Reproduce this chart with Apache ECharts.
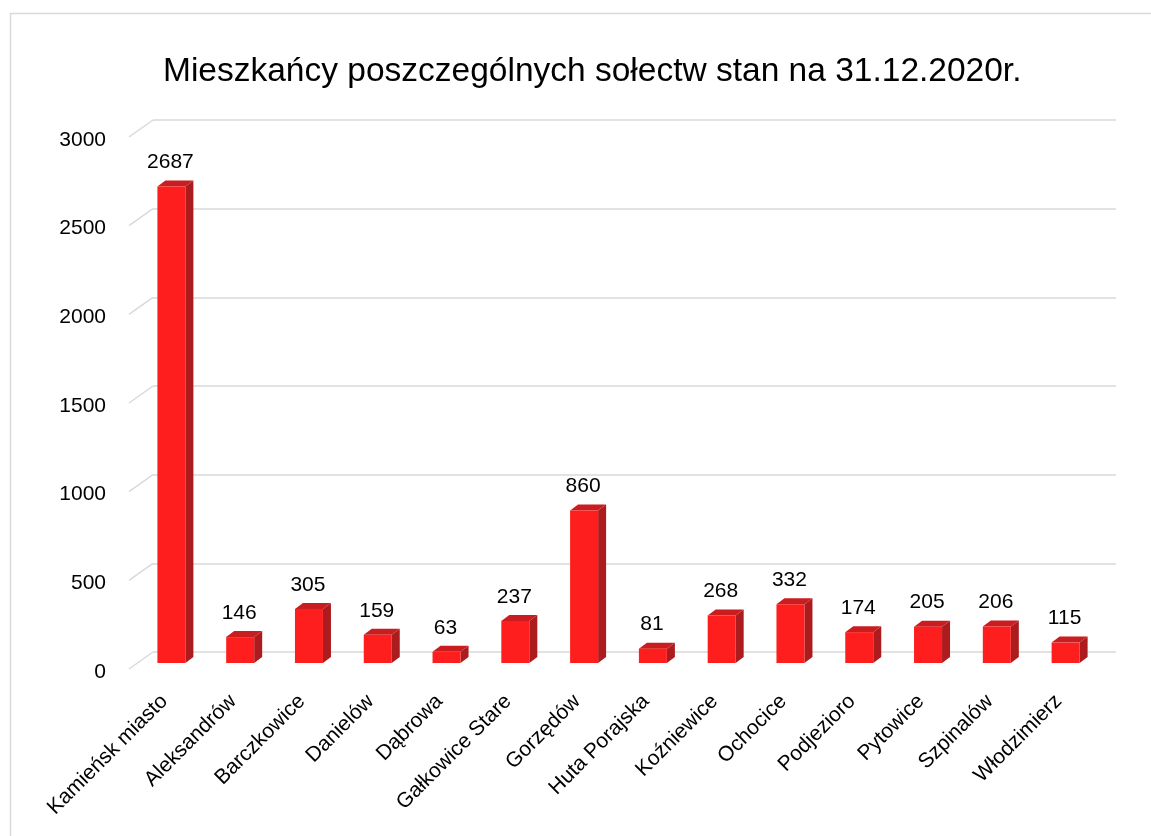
<!DOCTYPE html>
<html>
<head>
<meta charset="utf-8">
<script src="https://cdn.jsdelivr.net/npm/echarts@6/dist/echarts.min.js"></script>
<style>html,body{margin:0;padding:0;background:#fff}#c{width:1151px;height:836px}</style>
</head>
<body>
<div id="c"></div>
<script>
const titleText = 'Mieszkańcy poszczególnych sołectw stan na 31.12.2020r.';
const categories = ['Kamieńsk miasto','Aleksandrów','Barczkowice','Danielów','Dąbrowa','Gałkowice Stare','Gorzędów','Huta Porajska','Koźniewice','Ochocice','Podjezioro','Pytowice','Szpinalów','Włodzimierz'];
const values = [2687,146,305,159,63,237,860,81,268,332,174,205,206,115];
const yTicks = [0,500,1000,1500,2000,2500,3000];

const FONT = 'Liberation Sans';
const chart = echarts.init(document.getElementById('c'), null, {renderer:'canvas'});
const DX = 8, DY = -6, BW = 28;

chart.setOption({
  backgroundColor: '#fff',
  animation: false,
  title: {
    text: titleText, left: 158, top: 50,
    textStyle: {fontFamily: FONT, fontSize: 33.5, fontWeight: 'normal', color: '#000'}
  },
  graphic: [{
    type: 'rect', shape: {x: 10.5, y: 13.5, width: 1300, height: 1000},
    style: {fill: 'none', stroke: '#d9d9d9', lineWidth: 1.5}, silent: true, z: -10
  }],
  grid: [
    {left: 137, right: 51, top: 131, bottom: 173},
    {left: 153, right: 35, top: 120, bottom: 184},
    {left: 129, right: 35, top: 140, bottom: 164}
  ],
  xAxis: [
    {type: 'category', gridIndex: 0, data: categories,
     axisLine: {show: false}, axisTick: {show: false}, splitLine: {show: false},
     axisLabel: {rotate: 45, interval: 0, margin: 28, padding: [0, 10, 0, 0],
                 fontFamily: FONT, fontSize: 21, color: '#000'}},
    {type: 'value', gridIndex: 1, min: 0, max: 1, show: false},
    {type: 'value', gridIndex: 2, min: 0, max: 1, show: false}
  ],
  yAxis: [
    {type: 'value', gridIndex: 0, min: 0, max: 3000, interval: 500, show: false},
    {type: 'value', gridIndex: 1, min: 0, max: 3000, interval: 500,
     axisLine: {show: false}, axisTick: {show: false}, axisLabel: {show: false},
     splitLine: {show: true, lineStyle: {color: '#d9d9d9', width: 1.5}}},
    {type: 'value', gridIndex: 2, min: 0, max: 3000, interval: 500,
     axisLine: {show: false}, axisTick: {show: false}, splitLine: {show: false},
     axisLabel: {margin: 23, fontFamily: FONT, fontSize: 21, color: '#000',
                 formatter: v => String(v)}}
  ],
  series: [
    {
      type: 'custom', xAxisIndex: 1, yAxisIndex: 1, z: 1,
      data: yTicks.map(v => [0, v]),
      renderItem: function (params, api) {
        const p = api.coord([0, api.value(1)]);
        return {type: 'line', shape: {x1: p[0], y1: p[1], x2: p[0] - 24, y2: p[1] + 17},
          style: {stroke: '#d9d9d9', lineWidth: 1.5}};
      }
    },
    {
      type: 'custom', xAxisIndex: 0, yAxisIndex: 0, z: 5,
      data: values.map((v, i) => [i, v]),
      renderItem: function (params, api) {
        const v = api.value(1);
        const p = api.coord([api.value(0), v]);
        const p0 = api.coord([api.value(0), 0]);
        const l = p[0] - BW / 2, r = p[0] + BW / 2, t = p[1], b = p0[1];
        return {type: 'group', children: [
          {type: 'polygon', shape: {points: [[r, t], [r + DX, t + DY], [r + DX, b + DY], [r, b]]},
           style: {fill: '#ac1c1e'}},
          {type: 'polygon', shape: {points: [[l, t], [l + DX, t + DY], [r + DX, t + DY], [r, t]]},
           style: {fill: '#c91d20'}},
          {type: 'rect', shape: {x: l, y: t, width: BW, height: b - t},
           style: {fill: '#ff1e1e'}},
          {type: 'text', x: p[0] - 1, y: t - 24,
           style: {text: String(v), fontFamily: FONT, fontSize: 21, fill: '#000',
                   align: 'center', verticalAlign: 'middle'}}
        ]};
      }
    }
  ]
});
</script>
</body>
</html>
